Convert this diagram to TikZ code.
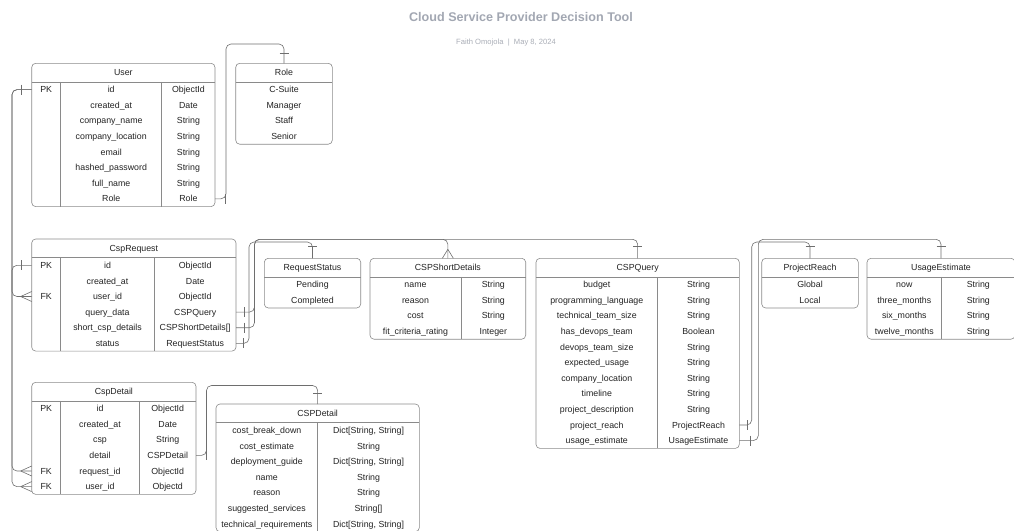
\documentclass[tikz,border=0pt]{standalone}
\usepackage{fontspec}
\setmainfont{Liberation Sans}
\usetikzlibrary{calc}
\definecolor{bordc}{HTML}{8A8A8A}
\definecolor{connc}{HTML}{6E6E6E}
\definecolor{txtc}{HTML}{222222}
\definecolor{titc}{HTML}{A2A7B2}
\definecolor{subc}{HTML}{A9ADB6}
\tikzset{
  ebox/.style={rectangle, draw=bordc, line width=0.6pt, rounded corners=4pt, inner sep=0pt, outer sep=0pt},
  eline/.style={draw=bordc, line width=0.6pt},
  etext/.style={inner sep=0pt, text height=6.3pt, text depth=0pt, text=txtc, font=\fontsize{8.8}{10}\selectfont},
  conn/.style={draw=connc, line width=0.6pt, rounded corners=5pt},
  tickln/.style={draw=connc, line width=0.6pt},
}
% name, left, top, right, rows, header
\newcommand\erbox[6]{%
  \pgfmathsetmacro\erw{#4-#2}%
  \pgfmathsetmacro\erh{18.5+#5*15.6}%
  \node[ebox, minimum width=\erw pt, minimum height=\erh pt, anchor=north west] (#1) at (#2,#3) {};
  \node[etext] (#1-h) at ([yshift=-9.2pt]#1.north) {#6};
  \draw[eline] ([yshift=-18.5pt]#1.north west) -- ([yshift=-18.5pt]#1.north east);
}
% table, colid, xcenter, top, list
\newcommand\ercol[5]{%
  \foreach \t [count=\i] in {#5} {\node[etext] (#1-#2\i) at (#3, {#4+18.5+(\i-0.5)*15.6}) {\t};}
}
% table, row, top, text
\newcommand\erkey[4]{\node[etext] (#1-k#2) at (46.2, {#3+18.5+(#2-0.5)*15.6}) {#4};}
% x, top, rows
\newcommand\erdiv[3]{\draw[eline] (#1,{#2+18.5}) -- (#1,{#2+18.5+#3*15.6});}
\newcommand\vtickat[2]{\draw[tickln] ($(#1)+(#2,-5)$) -- ($(#1)+(#2,5)$);}
\newcommand\htickat[2]{\draw[tickln] ($(#1)+(-4.5,#2)$) -- ($(#1)+(4.5,#2)$);}
\newcommand\crowleft[1]{\draw[tickln] ($(#1)+(-11,0)$) -- ($(#1)+(0,-5)$) ($(#1)+(-11,0)$) -- ($(#1)+(0,5)$);}
\newcommand\crowtop[1]{\draw[tickln] ($(#1)+(0,-9)$) -- ($(#1)+(-5.5,0)$) ($(#1)+(0,-9)$) -- ($(#1)+(5.5,0)$);}

\begin{document}
\begin{tikzpicture}[x=1pt,y=-1pt]
\useasboundingbox (0,0) rectangle (1014,530);
\clip (0,0) rectangle (1014,530);

\node[font=\bfseries\fontsize{12.6}{14}\selectfont, text=titc] (title) at (521,17) {Cloud Service Provider Decision Tool};
\node[font=\fontsize{7.6}{9}\selectfont, text=subc] (subtitle) at (506,43) {Faith Omojola \ | \ May 8, 2024};

% User
\erbox{user}{31.7}{63.3}{215}{8}{User}
\erkey{user}{1}{63.3}{PK}
\ercol{user}{a}{111.2}{63.3}{id,created\_at,company\_name,company\_location,email,hashed\_password,full\_name,Role}
\ercol{user}{b}{188.4}{63.3}{ObjectId,Date,String,String,String,String,String,Role}
\erdiv{60.7}{63.3}{8}
\erdiv{161.7}{63.3}{8}

% Role
\erbox{role}{235.7}{63.3}{332.3}{4}{Role}
\ercol{role}{a}{284}{63.3}{C-Suite,Manager,Staff,Senior}

% CspRequest
\erbox{cspreq}{31.7}{239}{236}{6}{CspRequest}
\erkey{cspreq}{1}{239}{PK}
\erkey{cspreq}{3}{239}{FK}
\ercol{cspreq}{a}{107.5}{239}{id,created\_at,user\_id,query\_data,short\_csp\_details,status}
\ercol{cspreq}{b}{195.2}{239}{ObjectId,Date,ObjectId,CSPQuery,CSPShortDetails[],RequestStatus}
\erdiv{60.7}{239}{6}
\erdiv{154.3}{239}{6}

% CspDetail
\erbox{cspdet}{31.7}{382.3}{196}{6}{CspDetail}
\erkey{cspdet}{1}{382.3}{PK}
\erkey{cspdet}{5}{382.3}{FK}
\erkey{cspdet}{6}{382.3}{FK}
\ercol{cspdet}{a}{100}{382.3}{id,created\_at,csp,detail,request\_id,user\_id}
\ercol{cspdet}{b}{167.7}{382.3}{ObjectId,Date,String,CSPDetail,ObjectId,Objectd}
\erdiv{60.7}{382.3}{6}
\erdiv{139.3}{382.3}{6}

% RequestStatus
\erbox{reqstat}{264.3}{258.3}{360.7}{2}{RequestStatus}
\ercol{reqstat}{a}{312.5}{258.3}{Pending,Completed}

% CSPShortDetails
\erbox{cspshort}{370}{258.3}{525.7}{4}{CSPShortDetails}
\ercol{cspshort}{a}{415.5}{258.3}{name,reason,cost,fit\_criteria\_rating}
\ercol{cspshort}{b}{493.3}{258.3}{String,String,String,Integer}
\erdiv{461}{258.3}{4}

% CSPQuery
\erbox{cspquery}{536}{258.3}{739.3}{11}{CSPQuery}
\ercol{cspquery}{a}{596.8}{258.3}{budget,programming\_language,technical\_team\_size,has\_devops\_team,devops\_team\_size,expected\_usage,company\_location,timeline,project\_description,project\_reach,usage\_estimate}
\ercol{cspquery}{b}{698.5}{258.3}{String,String,String,Boolean,String,String,String,String,String,ProjectReach,UsageEstimate}
\erdiv{657.7}{258.3}{11}

% ProjectReach
\erbox{projreach}{761.7}{258.3}{858.3}{2}{ProjectReach}
\ercol{projreach}{a}{810}{258.3}{Global,Local}

% UsageEstimate
\erbox{usage}{867}{258.3}{1015}{4}{UsageEstimate}
\ercol{usage}{a}{904.3}{258.3}{now,three\_months,six\_months,twelve\_months}
\ercol{usage}{b}{978.3}{258.3}{String,String,String,String}
\erdiv{941.7}{258.3}{4}

% CSPDetail
\erbox{cspdetail}{216}{404}{419.3}{7}{CSPDetail}
\ercol{cspdetail}{a}{266.8}{404}{cost\_break\_down,cost\_estimate,deployment\_guide,name,reason,suggested\_services,technical\_requirements}
\ercol{cspdetail}{b}{368.5}{404}{{Dict[String, String]},String,{Dict[String, String]},String,String,String[],{Dict[String, String]}}
\erdiv{317.7}{404}{7}

% ---- connectors ----
\coordinate (lbus) at (12,0);
\draw[conn] (user.west |- user-k1) -| (lbus |- cspreq-k3) -- (cspreq.west |- cspreq-k3);
\draw[conn] (user.west |- user-k1) -| (lbus |- cspdet-k6) -- (cspdet.west |- cspdet-k6);
\draw[conn] (cspreq.west |- cspreq-k1) -| (lbus |- cspdet-k5) -- (cspdet.west |- cspdet-k5);
\vtickat{user.west |- user-k1}{-10.7}
\vtickat{cspreq.west |- cspreq-k1}{-10.7}
\crowleft{cspreq.west |- cspreq-k3}
\crowleft{cspdet.west |- cspdet-k5}
\crowleft{cspdet.west |- cspdet-k6}

\draw[conn] (user.east |- user-b8) -| (226,44) -| (role.north);
\vtickat{user.east |- user-b8}{10.5}
\htickat{role.north}{-10}

\draw[conn] (cspreq.east |- cspreq-b4) -| (254.5,239.3) -| (cspquery.north);
\draw[conn] (cspreq.east |- cspreq-b5) -| (254.5,239.3) -| (cspshort.north);
\draw[conn] (cspreq.east |- cspreq-b6) -| (249,242) -| (reqstat.north);
\vtickat{cspreq.east |- cspreq-b4}{8}
\vtickat{cspreq.east |- cspreq-b5}{8}
\vtickat{cspreq.east |- cspreq-b6}{7.5}
\htickat{cspquery.north}{-11.6}
\htickat{reqstat.north}{-11.6}
\crowtop{cspshort.north}

\draw[conn] (cspquery.east |- cspquery-b10) -| (751.7,242) -| (projreach.north);
\draw[conn] (cspquery.east |- cspquery-b11) -| (758.3,239.3) -| (usage.north);
\vtickat{cspquery.east |- cspquery-b10}{7.5}
\vtickat{cspquery.east |- cspquery-b11}{10.5}
\htickat{projreach.north}{-11.6}
\htickat{usage.north}{-11.6}

\draw[conn] (cspdet.east |- cspdet-b4) -| (206.5,385.5) -| (cspdetail.north);
\vtickat{cspdet.east |- cspdet-b4}{10.5}
\htickat{cspdetail.north}{-10.7}
\end{tikzpicture}
\end{document}
